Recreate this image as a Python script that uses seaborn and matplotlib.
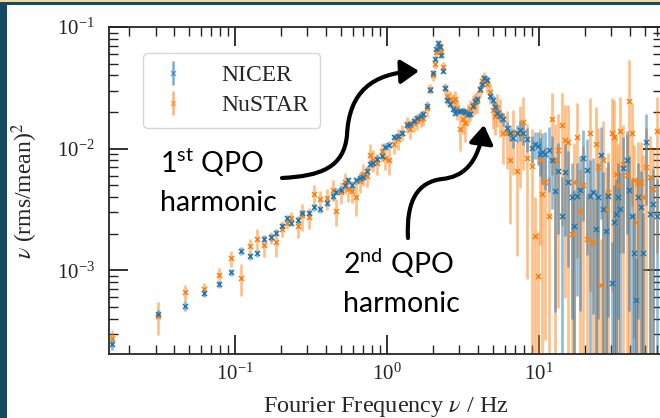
import numpy as np
import pandas as pd
import matplotlib
matplotlib.use("Agg")
import matplotlib.pyplot as plt
import seaborn as sns
from matplotlib.path import Path
from matplotlib.patches import FancyArrowPatch, Rectangle

# ---------------- data ----------------
freq = [0.0156, 0.0313, 0.0469, 0.0625, 0.0781, 0.0938, 0.1094, 0.125, 0.1406, 0.1563,
        0.1719, 0.1875, 0.2031, 0.2188, 0.2344, 0.258, 0.276, 0.307, 0.33, 0.362,
        0.403, 0.44, 0.462, 0.498, 0.53, 0.554, 0.589, 0.63, 0.665, 0.695,
        0.735, 0.773, 0.809, 0.86, 0.927, 0.97, 1.03, 1.11, 1.18, 1.26,
        1.35, 1.42, 1.50, 1.58, 1.67, 1.73, 1.83, 1.92, 2.00, 2.06,
        2.10, 2.16, 2.22, 2.27, 2.33, 2.41, 2.48, 2.60, 2.70, 2.80,
        2.91, 3.02, 3.16, 3.28, 3.41, 3.52, 3.68, 3.80, 3.91, 4.09,
        4.22, 4.35, 4.55, 4.76, 4.98, 5.13, 5.29, 5.54, 5.80, 6.16,
        6.45, 6.75, 7.17, 7.50, 7.85, 8.34, 8.99, 9.41, 9.80, 10.15,
        10.55, 10.95, 11.64, 12.18, 12.75, 13.34, 14.17, 14.83, 15.52, 16.49,
        17.0, 17.78, 18.61, 19.48, 20.69, 21.66, 22.67, 23.71, 24.45, 25.57,
        26.37, 27.60, 28.44, 30.22, 31.15, 32.11, 33.09, 34.12, 35.70, 37.93,
        39.10, 40.90, 42.17, 43.47, 44.81, 46.89, 48.33, 50.57, 53.74, 56.23,
        59.76]

nicer_power = [2.5e-4, 4.4e-4, 5.1e-4, 6.5e-4, 7.7e-4, 9.6e-4, 1.44e-3, 1.3e-3, 1.38e-3, 1.82e-3,
               1.86e-3, 2.04e-3, 2.3e-3, 2.67e-3, 2.47e-3, 2.6e-3, 2.93e-3, 2.93e-3, 3.3e-3, 3.16e-3,
               3.6e-3, 4.1e-3, 4.44e-3, 4.6e-3, 4.98e-3, 5.5e-3, 4.98e-3, 5.5e-3, 5.78e-3, 5.88e-3,
               6.6e-3, 7.53e-3, 7.6e-3, 8.28e-3, 8.77e-3, 0.0104, 0.0108, 0.0125, 0.0128, 0.0135,
               0.0155, 0.0158, 0.0168, 0.018, 0.0186, 0.0194, 0.0225, 0.0305, 0.042, 0.055,
               0.066, 0.074, 0.069, 0.059, 0.0437, 0.0316, 0.0252, 0.0234, 0.021, 0.0197,
               0.0205, 0.0205, 0.0203, 0.020, 0.0194, 0.0194, 0.0225, 0.0245, 0.0257, 0.031,
               0.0341, 0.0382, 0.0368, 0.0272, 0.0252, 0.022, 0.0197, 0.0186, 0.0176, 0.0149,
               0.0135, 0.0123, 0.0135, 0.0142, 0.0135, 0.0121, 0.0102, 0.011, 0.0105, 0.0091,
               0.0093, 0.0091, 0.0098, 0.0080, 0.0045, 0.0066, 0.0028, 0.0064, 0.0053, 0.0040,
               0.0023, 0.0041, 0.0046, 0.0084, 0.0067, 0.0041, 0.0044, 0.0022, 0.0040, 0.0088,
               0.0032, 0.0021, 0.0041, 7.8e-4, 0.0025, 0.0029, 0.0040, 0.0032, 0.0069, 0.0080,
               0.0046, 0.0028, 0.0014, 5.7e-4, 0.0040, 0.0033, 0.0014, 0.0114, 0.0029, 0.0035,
               0.0028]

nicer_rel_err = [0.12, 0.08, 0.1, 0.08, 0.07, 0.07, 0.07, 0.07, 0.07, 0.07,
                 0.07, 0.07, 0.07, 0.07, 0.07, 0.07, 0.07, 0.07, 0.07, 0.07,
                 0.07, 0.07, 0.07, 0.07, 0.07, 0.07, 0.07, 0.07, 0.07, 0.07,
                 0.07, 0.07, 0.07, 0.07, 0.07, 0.06, 0.06, 0.06, 0.06, 0.06,
                 0.06, 0.06, 0.06, 0.06, 0.06, 0.06, 0.06, 0.05, 0.05, 0.05,
                 0.05, 0.05, 0.05, 0.05, 0.05, 0.05, 0.06, 0.06, 0.06, 0.06,
                 0.06, 0.06, 0.06, 0.06, 0.06, 0.06, 0.06, 0.06, 0.06, 0.06,
                 0.06, 0.06, 0.08, 0.08, 0.09, 0.1, 0.1, 0.11, 0.12, 0.12,
                 0.15, 0.18, 0.16, 0.18, 0.2, 0.22, 0.25, 0.25, 0.3, 0.35,
                 0.45, 0.5, 0.55, 0.6, 0.9, 0.7, 1.1, 0.7, 0.8, 0.9,
                 1.0, 0.85, 0.9, 0.7, 0.8, 0.95, 0.9, 1.05, 0.9, 0.7,
                 1.0, 1.1, 0.9, 1.2, 1.0, 0.95, 0.9, 1.0, 0.8, 0.75,
                 0.9, 1.0, 1.1, 1.2, 0.9, 1.0, 1.1, 0.7, 1.0, 0.95,
                 1.0]

nustar_power = [2.8e-4, 4.2e-4, 6.6e-4, 7.0e-4, 9.1e-4, 1.26e-3, 8.7e-4, 1.58e-3, 1.82e-3, 1.6e-3,
                1.86e-3, 1.7e-3, 2.2e-3, 2.47e-3, 2.67e-3, 2.3e-3, 2.83e-3, 2.72e-3, 4.2e-3, 3.82e-3,
                3.9e-3, 4.6e-3, 3.1e-3, 4.4e-3, 5.3e-3, 4.7e-3, 4.5e-3, 4.0e-3, 5.4e-3, 6.2e-3,
                6.0e-3, 8.8e-3, 8.1e-3, 7.6e-3, 9.5e-3, 8.3e-3, 8.1e-3, 0.011, 0.0121, 0.0135,
                0.0158, 0.0145, 0.0162, 0.0168, 0.0176, 0.018, 0.0215, 0.031, 0.040, 0.050,
                0.062, 0.069, 0.070, 0.062, 0.047, 0.0316, 0.027, 0.0257, 0.0245, 0.0257,
                0.0215, 0.0146, 0.0175, 0.0163, 0.0194, 0.021, 0.023, 0.024, 0.0247, 0.0305,
                0.036, 0.0382, 0.034, 0.029, 0.0206, 0.0186, 0.0215, 0.019, 0.0135, 0.0135,
                0.0080, 0.0135, 0.0066, 0.0135, 0.0166, 0.0084, 0.0072, 0.0019, 8.9e-4, 0.0080,
                0.0042, 0.0053, 0.0028, 0.0175, 0.0080, 0.0098, 0.0155, 0.0118, 0.0114, 0.0020,
                0.0053, 0.0125, 0.0031, 0.0050, 0.0018, 0.0135, 0.0017, 0.0110, 0.0070, 7.5e-4,
                0.0080, 0.0032, 0.0044, 0.0135, 0.0125, 0.0062, 0.0050, 0.0140, 0.0075, 0.0061,
                0.0245, 0.0135, 0.0055, 0.0025, 0.0052, 0.0053, 0.0040, 0.0070, 0.0058, 0.0047,
                0.014]

nustar_rel_err = [0.15, 0.3, 0.15, 0.12, 0.15, 0.15, 0.3, 0.15, 0.2, 0.2,
                  0.12, 0.25, 0.15, 0.12, 0.12, 0.2, 0.25, 0.2, 0.2, 0.18,
                  0.2, 0.2, 0.25, 0.2, 0.2, 0.22, 0.2, 0.3, 0.2, 0.2,
                  0.2, 0.25, 0.2, 0.2, 0.18, 0.2, 0.25, 0.18, 0.2, 0.15,
                  0.15, 0.18, 0.15, 0.15, 0.15, 0.15, 0.15, 0.1, 0.1, 0.1,
                  0.1, 0.1, 0.1, 0.1, 0.1, 0.1, 0.15, 0.15, 0.15, 0.15,
                  0.2, 0.35, 0.25, 0.3, 0.2, 0.2, 0.2, 0.2, 0.2, 0.15,
                  0.12, 0.12, 0.15, 0.2, 0.3, 0.3, 0.3, 0.35, 0.45, 0.5,
                  0.7, 0.55, 0.8, 0.65, 0.6, 0.9, 1.0, 1.1, 1.3, 0.8,
                  1.0, 0.95, 1.1, 0.65, 1.0, 0.95, 0.85, 0.95, 1.0, 1.2,
                  1.1, 0.9, 1.2, 1.1, 1.3, 0.95, 1.3, 1.0, 1.1, 1.4,
                  1.1, 1.2, 1.1, 0.95, 1.0, 1.1, 1.2, 0.9, 1.1, 1.15,
                  1.2, 0.75, 0.95, 1.3, 1.2, 1.15, 1.2, 1.1, 1.2, 1.1,
                  0.9]

series_labels = ["NICER", "NuSTAR"]
x_label = r"Fourier Frequency $\nu$ / Hz"
y_label = r"$\nu$ (rms/mean)$^2$"
annot1 = [r"1$^{\mathrm{st}}$ QPO", "harmonic"]
annot2 = [r"2$^{\mathrm{nd}}$ QPO", "harmonic"]

# ---------------- style ----------------
sns.set_style("ticks")
plt.rcParams["font.family"] = ["Liberation Serif", "DejaVu Serif"]
plt.rcParams["mathtext.fontset"] = "stix"
plt.rcParams["mathtext.rm"] = "Lato"

BLUE = "#1f77b4"
ORANGE = "#ff7f0e"
W, H = 660, 418

fig = plt.figure(figsize=(W / 100, H / 100), dpi=100)
fig.patch.set_facecolor("white")
ax = fig.add_axes([109 / W, 1 - 354 / H, 553 / W, 327 / H])
ax.set_xscale("log")
ax.set_yscale("log")

df = pd.DataFrame({
    "freq": freq * 2,
    "power": nicer_power + nustar_power,
    "err": list(np.array(nicer_power) * np.array(nicer_rel_err))
           + list(np.array(nustar_power) * np.array(nustar_rel_err)),
    "inst": [series_labels[0]] * len(freq) + [series_labels[1]] * len(freq),
})

colors = {series_labels[0]: BLUE, series_labels[1]: ORANGE}

# error bars (NuSTAR first, NICER on top)
for name in [series_labels[1], series_labels[0]]:
    d = df[df["inst"] == name]
    ax.errorbar(d["freq"], d["power"], yerr=d["err"], fmt="none",
                ecolor=colors[name], alpha=0.5, elinewidth=1.9, capsize=0, zorder=2)

for name in [series_labels[1], series_labels[0]]:
    d = df[df["inst"] == name]
    sns.scatterplot(data=d, x="freq", y="power", ax=ax, marker="x", color=colors[name],
                    s=13, linewidth=1.1, legend=False, zorder=3)

ax.set_xlim(0.01483, 64.5)
ax.set_ylim(2.05e-4, 0.1)

# legend proxies
handles = []
for name in series_labels:
    h = ax.errorbar([], [], yerr=[], fmt="x", color=colors[name], ms=3.6, mew=1.1,
                    elinewidth=1.8, alpha=0.6, label=name)
    handles.append(h)
leg = ax.legend(handles=handles, labels=series_labels, loc="upper left",
                bbox_to_anchor=(0.0615, 0.9205), borderaxespad=0, fontsize=17,
                frameon=True, handlelength=1.5, handletextpad=1.3,
                labelspacing=0.35, borderpad=0.5, fancybox=True)
leg.get_frame().set_edgecolor("#cccccc")
leg.get_frame().set_linewidth(1.0)

ax.set_xlabel(x_label, fontsize=17.5)
ax.set_ylabel(y_label, fontsize=17)
ax.xaxis.set_label_coords(0.5, -0.125)
ax.yaxis.set_label_coords(-0.125, 0.5)

for s in ax.spines.values():
    s.set_linewidth(1.3)
    s.set_visible(True)
ax.tick_params(which="both", direction="in", top=True, right=True, colors="#222222")
ax.tick_params(which="major", length=14, width=1.3, labelsize=15)
ax.tick_params(which="minor", length=6.5, width=1.0)
ax.tick_params(axis="x", which="major", pad=7)
ax.tick_params(axis="y", which="major", pad=10)

# annotations
def P(x, y):
    return (x / W, 1 - y / H)

afont = dict(family=["Lato", "DejaVu Sans"], fontsize=20.5, color="black",
             math_fontfamily="custom")
for (px, py), txt in zip([(160, 173), (160, 211)], annot1):
    fig.text(*P(px, py), txt, va="baseline", ha="left", **afont)
for (px, py), txt in zip([(343, 274), (343, 312)], annot2):
    fig.text(*P(px, py), txt, va="baseline", ha="left", **afont)

codes = [Path.MOVETO, Path.CURVE4, Path.CURVE4, Path.CURVE4,
         Path.CURVE4, Path.CURVE4, Path.CURVE4]
arrow_paths = [
    [P(282, 178), P(320, 176), P(344, 168), P(347, 135), P(349, 92), P(372, 73), P(419, 71)],
    [P(408, 238), P(406, 200), P(418, 182), P(442, 179), P(462, 177), P(478, 165), P(484, 125)],
]
for verts in arrow_paths:
    arr = FancyArrowPatch(path=Path(verts, codes),
                          arrowstyle="-|>,head_length=0.55,head_width=0.36",
                          mutation_scale=20, color="black", lw=3,
                          transform=fig.transFigure, zorder=10)
    fig.patches.append(arr)

# slide frame decorations
fig.patches.append(Rectangle((0, 1 - 2 / H), 1, 2 / H, transform=fig.transFigure,
                             facecolor="#efd9a2", edgecolor="none", zorder=20))
fig.patches.append(Rectangle((0, 1 - 5 / H), 1, 3 / H, transform=fig.transFigure,
                             facecolor="#164a63", edgecolor="none", zorder=20))
fig.patches.append(Rectangle((0, 0), 7 / W, 1 - 2 / H, transform=fig.transFigure,
                             facecolor="#164a63", edgecolor="none", zorder=20))

fig.savefig("out.png", dpi=100)
